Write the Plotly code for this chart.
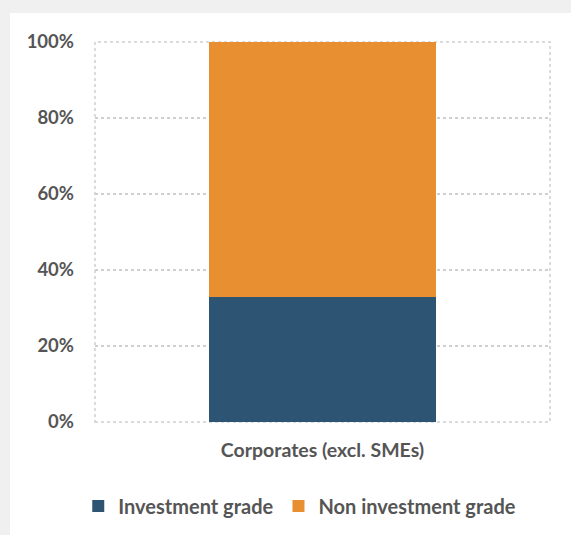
import plotly.graph_objects as go

categories = ["Corporates (excl. SMEs)"]
investment_grade = [33]
non_investment_grade = [67]
y_ticks = [0, 20, 40, 60, 80, 100]
y_tick_labels = ["0%", "20%", "40%", "60%", "80%", "100%"]

W, H = 571, 535
L, R, T, B = 95, 21, 42, 113
pw, ph = W - L - R, H - T - B

def px_to_paper_x(px):
    return (px - L) / pw

def px_to_paper_y(py):
    return (H - B - py) / ph

font_family = "Lato, 'Open Sans', sans-serif"
text_color = "#555555"

fig = go.Figure()
fig.add_trace(go.Bar(x=categories, y=investment_grade, name="Investment grade",
                     marker=dict(color="#2E5474", line=dict(width=0)), width=0.5))
fig.add_trace(go.Bar(x=categories, y=non_investment_grade, name="Non investment grade",
                     marker=dict(color="#E88F32", line=dict(width=0)), width=0.5))

fig.update_layout(
    width=W, height=H,
    barmode="stack",
    paper_bgcolor="#F0F0F0",
    plot_bgcolor="rgba(0,0,0,0)",
    margin=dict(l=L, r=R, t=T, b=B, pad=0, autoexpand=False),
    font=dict(family=font_family, color=text_color, size=18, weight="bold"),
    showlegend=True,
    legend=dict(orientation="h", x=0.45, xanchor="center",
                yref="container", y=(H - 506) / H, yanchor="middle",
                font=dict(size=20, color=text_color, family=font_family, weight="bold"),
                itemwidth=30, traceorder="normal", bgcolor="rgba(0,0,0,0)"),
    xaxis=dict(range=[-0.5, 0.5], showgrid=False, showline=False, zeroline=False,
               ticks="", ticklabelstandoff=14, automargin=False,
               tickfont=dict(size=19.5, color=text_color, family=font_family, weight="bold")),
    yaxis=dict(range=[0, 100], tickvals=y_ticks, ticktext=y_tick_labels,
               showgrid=True, gridcolor="#CFCFCF", griddash="dot", gridwidth=1.5,
               zeroline=False, showline=False, ticks="", ticklabelstandoff=20, automargin=False,
               tickfont=dict(size=18.5, color=text_color, family=font_family, weight="bold")),
    shapes=[
        dict(type="rect", xref="paper", yref="paper", layer="below",
             x0=px_to_paper_x(10), x1=px_to_paper_x(W + 5),
             y0=px_to_paper_y(H + 5), y1=px_to_paper_y(13),
             fillcolor="white", line=dict(width=0)),
        dict(type="rect", xref="paper", yref="paper", layer="below",
             x0=0, x1=1, y0=0, y1=1,
             line=dict(color="#CFCFCF", width=1.5, dash="dot")),
    ],
)

fig.write_html("out.html", config={"displayModeBar": False},
               post_script="document.body.style.margin='0';")
